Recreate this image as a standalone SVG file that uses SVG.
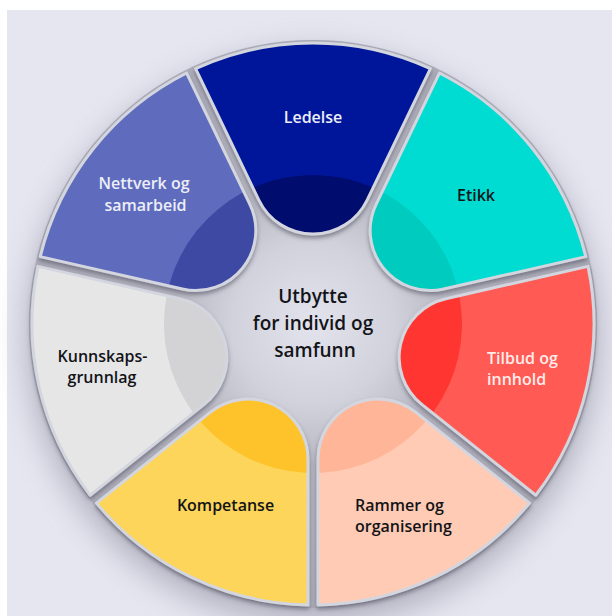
<svg xmlns="http://www.w3.org/2000/svg" xmlns:xlink="http://www.w3.org/1999/xlink" width="612" height="616" viewBox="0 0 612 616">
  <defs>
    <style>
      .lbl { font-family: "Open Sans", "Noto Sans", "Liberation Sans", sans-serif; font-size: 16px; font-weight: 600; }
      .mid { text-anchor: middle; }
      .dark { fill: #121418; }
      .light { fill: #eceef8; }
      .hub { font-family: "Open Sans", "Noto Sans", "Liberation Sans", sans-serif; font-size: 19px; font-weight: 600; fill: #121418; text-anchor: middle; }
      .rim { fill: none; stroke: #d4d6df; stroke-width: 3; stroke-linejoin: round; }
    </style>
    <!-- one wheel segment pointing along +x, hub at the origin -->
    <path id="wedge" d="M255.31,-117.4 A281,281 0 0 1 255.31,117.4 L123.93,54.14 A60.08,60.08 0 0 1 123.93,-54.14 Z"/>
    <clipPath id="core" clipPathUnits="userSpaceOnUse">
      <circle cx="0" cy="0" r="149"/>
    </clipPath>
    <radialGradient id="hubShade" gradientUnits="userSpaceOnUse" cx="313" cy="324" r="285">
      <stop offset="0" stop-color="#e3e3ed"/>
      <stop offset="0.28" stop-color="#d2d2dc"/>
      <stop offset="0.5" stop-color="#b6b6c2"/>
      <stop offset="1" stop-color="#acacb9"/>
    </radialGradient>
    <filter id="soft" x="-20%" y="-20%" width="140%" height="140%">
      <feGaussianBlur stdDeviation="16"/>
    </filter>
    <filter id="lift" x="-10%" y="-10%" width="120%" height="120%">
      <feDropShadow dx="0" dy="3" stdDeviation="2.2" flood-color="#4a4a5a" flood-opacity="0.55"/>
    </filter>
  </defs>

  <!-- backdrop -->
  <rect width="612" height="616" fill="#ffffff"/>
  <rect x="7" y="10" width="605" height="606" fill="#e6e6f1"/>
  <circle cx="313" cy="338" r="286" fill="#8e8e9e" opacity="0.6" filter="url(#soft)"/>
  <circle cx="313" cy="324" r="284" fill="url(#hubShade)"/>

  <g id="kompetanse">
    <g filter="url(#lift)"><g transform="translate(313,324) rotate(115.714)">
      <use href="#wedge" fill="#fdd55a"/>
      <use href="#wedge" fill="#fec22c" clip-path="url(#core)"/>
      <use href="#wedge" class="rim"/>
    </g></g>
    <text class="lbl mid dark" x="225.5" y="510.5">Kompetanse</text>
  </g>

  <g id="kunnskapsgrunnlag">
    <g filter="url(#lift)"><g transform="translate(313,324) rotate(167.143)">
      <use href="#wedge" fill="#e6e6e7"/>
      <use href="#wedge" fill="#d3d3d5" clip-path="url(#core)"/>
      <use href="#wedge" class="rim"/>
    </g></g>
    <text class="lbl mid dark" x="102.5" y="361.5">Kunnskaps-</text>
    <text class="lbl mid dark" x="102" y="383">grunnlag</text>
  </g>

  <g id="nettverk">
    <g filter="url(#lift)"><g transform="translate(313,324) rotate(218.571)">
      <use href="#wedge" fill="#5e6cbd"/>
      <use href="#wedge" fill="#3c48a3" clip-path="url(#core)"/>
      <use href="#wedge" class="rim"/>
    </g></g>
    <text class="lbl mid light" x="144" y="189">Nettverk og</text>
    <text class="lbl mid light" x="145.5" y="211">samarbeid</text>
  </g>

  <g id="ledelse">
    <g filter="url(#lift)"><g transform="translate(313,324) rotate(270)">
      <use href="#wedge" fill="#00199a"/>
      <use href="#wedge" fill="#000b6e" clip-path="url(#core)"/>
      <use href="#wedge" class="rim"/>
    </g></g>
    <text class="lbl mid light" x="313" y="123">Ledelse</text>
  </g>

  <g id="etikk">
    <g filter="url(#lift)"><g transform="translate(313,324) rotate(321.429)">
      <use href="#wedge" fill="#00dcd2"/>
      <use href="#wedge" fill="#00cbbf" clip-path="url(#core)"/>
      <use href="#wedge" class="rim"/>
    </g></g>
    <text class="lbl mid dark" x="476" y="200.5">Etikk</text>
  </g>

  <g id="tilbud">
    <g filter="url(#lift)"><g transform="translate(313,324) rotate(12.857)">
      <use href="#wedge" fill="#ff5a53"/>
      <use href="#wedge" fill="#ff3631" clip-path="url(#core)"/>
      <use href="#wedge" class="rim"/>
    </g></g>
    <text class="lbl light" x="487" y="364" style="fill:#ffeceb">Tilbud og</text>
    <text class="lbl light" x="487" y="385" style="fill:#ffeceb">innhold</text>
  </g>

  <g id="rammer">
    <g filter="url(#lift)"><g transform="translate(313,324) rotate(64.286)">
      <use href="#wedge" fill="#ffcbb4"/>
      <use href="#wedge" fill="#ffb598" clip-path="url(#core)"/>
      <use href="#wedge" class="rim"/>
    </g></g>
    <text class="lbl dark" x="355" y="510.5">Rammer og</text>
    <text class="lbl dark" x="355" y="531.5">organisering</text>
  </g>

  <g id="utbytte">
    <text class="hub" x="313" y="302.5">Utbytte</text>
    <text class="hub" x="313" y="330">for individ og</text>
    <text class="hub" x="315" y="356.5">samfunn</text>
  </g>
</svg>
